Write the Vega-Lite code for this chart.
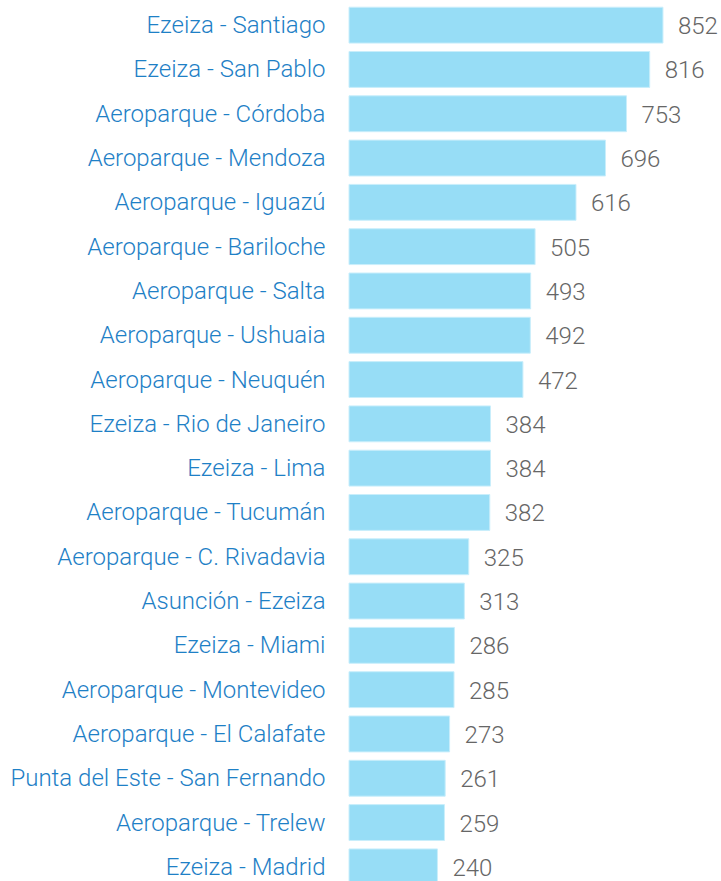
{
  "$schema": "https://vega.github.io/schema/vega-lite/v6.json",
  "width": 372,
  "height": 886,
  "autosize": {"type": "none"},
  "padding": {"left": 349, "top": 3, "right": 0, "bottom": 0},
  "background": "white",
  "config": {"view": {"stroke": null}},
  "data": {"values": [
    {"ruta": "Ezeiza - Santiago", "valor": 852},
    {"ruta": "Ezeiza - San Pablo", "valor": 816},
    {"ruta": "Aeroparque - Córdoba", "valor": 753},
    {"ruta": "Aeroparque - Mendoza", "valor": 696},
    {"ruta": "Aeroparque - Iguazú", "valor": 616},
    {"ruta": "Aeroparque - Bariloche", "valor": 505},
    {"ruta": "Aeroparque - Salta", "valor": 493},
    {"ruta": "Aeroparque - Ushuaia", "valor": 492},
    {"ruta": "Aeroparque - Neuquén", "valor": 472},
    {"ruta": "Ezeiza - Rio de Janeiro", "valor": 384},
    {"ruta": "Ezeiza - Lima", "valor": 384},
    {"ruta": "Aeroparque - Tucumán", "valor": 382},
    {"ruta": "Aeroparque - C. Rivadavia", "valor": 325},
    {"ruta": "Asunción - Ezeiza", "valor": 313},
    {"ruta": "Ezeiza - Miami", "valor": 286},
    {"ruta": "Aeroparque - Montevideo", "valor": 285},
    {"ruta": "Aeroparque - El Calafate", "valor": 273},
    {"ruta": "Punta del Este - San Fernando", "valor": 261},
    {"ruta": "Aeroparque - Trelew", "valor": 259},
    {"ruta": "Ezeiza - Madrid", "valor": 240}
  ]},
  "encoding": {
    "y": {
      "field": "ruta", "type": "nominal", "sort": null,
      "scale": {"paddingInner": 0.19, "paddingOuter": 0.095},
      "axis": {"title": null, "domain": false, "ticks": false, "labelPadding": 24, "labelOffset": 1,
        "labelFont": "Roboto", "labelFontWeight": 300, "labelFontSize": 24,
        "labelColor": "#1e80c6", "labelLimit": 400}
    },
    "x": {
      "field": "valor", "type": "quantitative",
      "scale": {"domain": [0, 1009.5], "nice": false},
      "axis": null
    }
  },
  "layer": [
    {"mark": {"type": "bar", "color": "#97ddf6", "stroke": "#c9eefb", "strokeWidth": 1}},
    {"mark": {"type": "text", "align": "left", "baseline": "middle", "dx": 15, "dy": 2,
      "font": "Roboto", "fontWeight": 300, "fontSize": 24, "color": "#666666"},
     "encoding": {"text": {"field": "valor", "type": "quantitative"}}}
  ]
}
